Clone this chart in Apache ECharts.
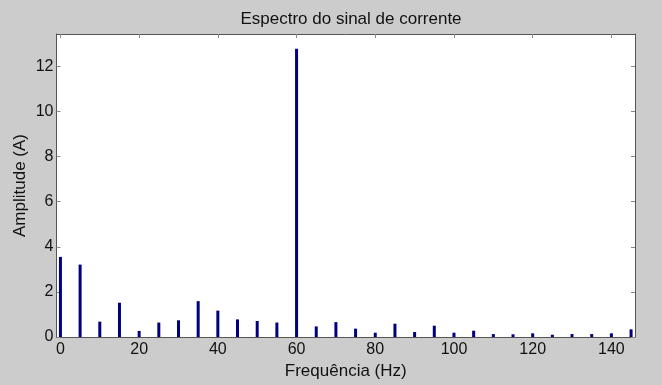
<!DOCTYPE html>
<html>
<head>
<meta charset="utf-8">
<script src="https://cdn.jsdelivr.net/npm/echarts@6/dist/echarts.min.js"></script>
<style>
  html, body { margin: 0; padding: 0; background: #cccccc; }
  #chart { width: 662px; height: 385px; }
</style>
</head>
<body>
<div id="chart"></div>
<script>
// frequências (Hz) e amplitudes (A)
const freqs = [0, 5, 10, 15, 20, 25, 30, 35, 40, 45, 50, 55, 60, 65, 70, 75,
  80, 85, 90, 95, 100, 105, 110, 115, 120, 125, 130, 135, 140, 145];
const amps = [3.55, 3.21, 0.68, 1.52, 0.27, 0.64, 0.74, 1.59, 1.17, 0.78, 0.71, 0.64, 12.78, 0.47, 0.66, 0.37,
  0.19, 0.59, 0.22, 0.50, 0.19, 0.28, 0.13, 0.12, 0.16, 0.10, 0.13, 0.13, 0.16, 0.34];
const xTicks = [0, 20, 40, 60, 80, 100, 120, 140];
const yTicks = [0, 2, 4, 6, 8, 10, 12];

const chart = echarts.init(document.getElementById('chart'));

const font = 'Liberation Sans, Arial, sans-serif';
const axisLine = { show: true, onZero: false, lineStyle: { color: '#555555', width: 1 } };
const tickStyle = { color: '#888888', width: 1 };

const options = {
  backgroundColor: '#cccccc',
  animation: false,
  title: {
    text: 'Espectro do sinal de corrente',
    left: 346,
    top: 6,
    textAlign: 'center',
    textStyle: { fontFamily: font, fontSize: 17, fontWeight: 'normal', color: '#111' }
  },
  grid: {
    left: 56.5, right: 27, top: 34, bottom: 43,
    show: true, backgroundColor: '#ffffff', borderWidth: 0
  },
  xAxis: [
    {
      type: 'value', min: -1, max: 146,
      name: 'Frequência (Hz)', nameLocation: 'middle', nameGap: 26,
      nameTextStyle: { fontFamily: font, fontSize: 17, color: '#111' },
      axisLine: axisLine,
      axisTick: { show: true, inside: true, length: 4, lineStyle: tickStyle, customValues: xTicks },
      axisLabel: { fontFamily: font, fontSize: 16, color: '#111', margin: 5, customValues: xTicks },
      splitLine: { show: false }
    },
    {
      type: 'value', min: -1, max: 146, position: 'top',
      axisLine: axisLine,
      axisTick: { show: true, inside: true, length: 4, lineStyle: tickStyle, customValues: xTicks },
      axisLabel: { show: false },
      splitLine: { show: false }
    }
  ],
  yAxis: [
    {
      type: 'value', min: 0, max: 13.43,
      name: 'Amplitude (A)', nameLocation: 'middle', nameGap: 28, nameMoveOverlap: false,
      nameTextStyle: { fontFamily: font, fontSize: 17, color: '#111' },
      axisLine: axisLine,
      axisTick: { show: true, inside: true, length: 4, lineStyle: tickStyle, customValues: yTicks },
      axisLabel: { fontFamily: font, fontSize: 16, color: '#111', margin: 3, customValues: yTicks },
      splitLine: { show: false }
    },
    {
      type: 'value', min: 0, max: 13.43, position: 'right',
      axisLine: axisLine,
      axisTick: { show: true, inside: true, length: 4, lineStyle: tickStyle, customValues: yTicks },
      axisLabel: { show: false },
      splitLine: { show: false }
    }
  ],
  series: [
    {
      type: 'bar',
      xAxisIndex: 0,
      yAxisIndex: 0,
      barWidth: 3,
      itemStyle: { color: '#00007f' },
      data: freqs.map((f, i) => [f, amps[i]])
    }
  ]
};

chart.setOption(options);
</script>
</body>
</html>
